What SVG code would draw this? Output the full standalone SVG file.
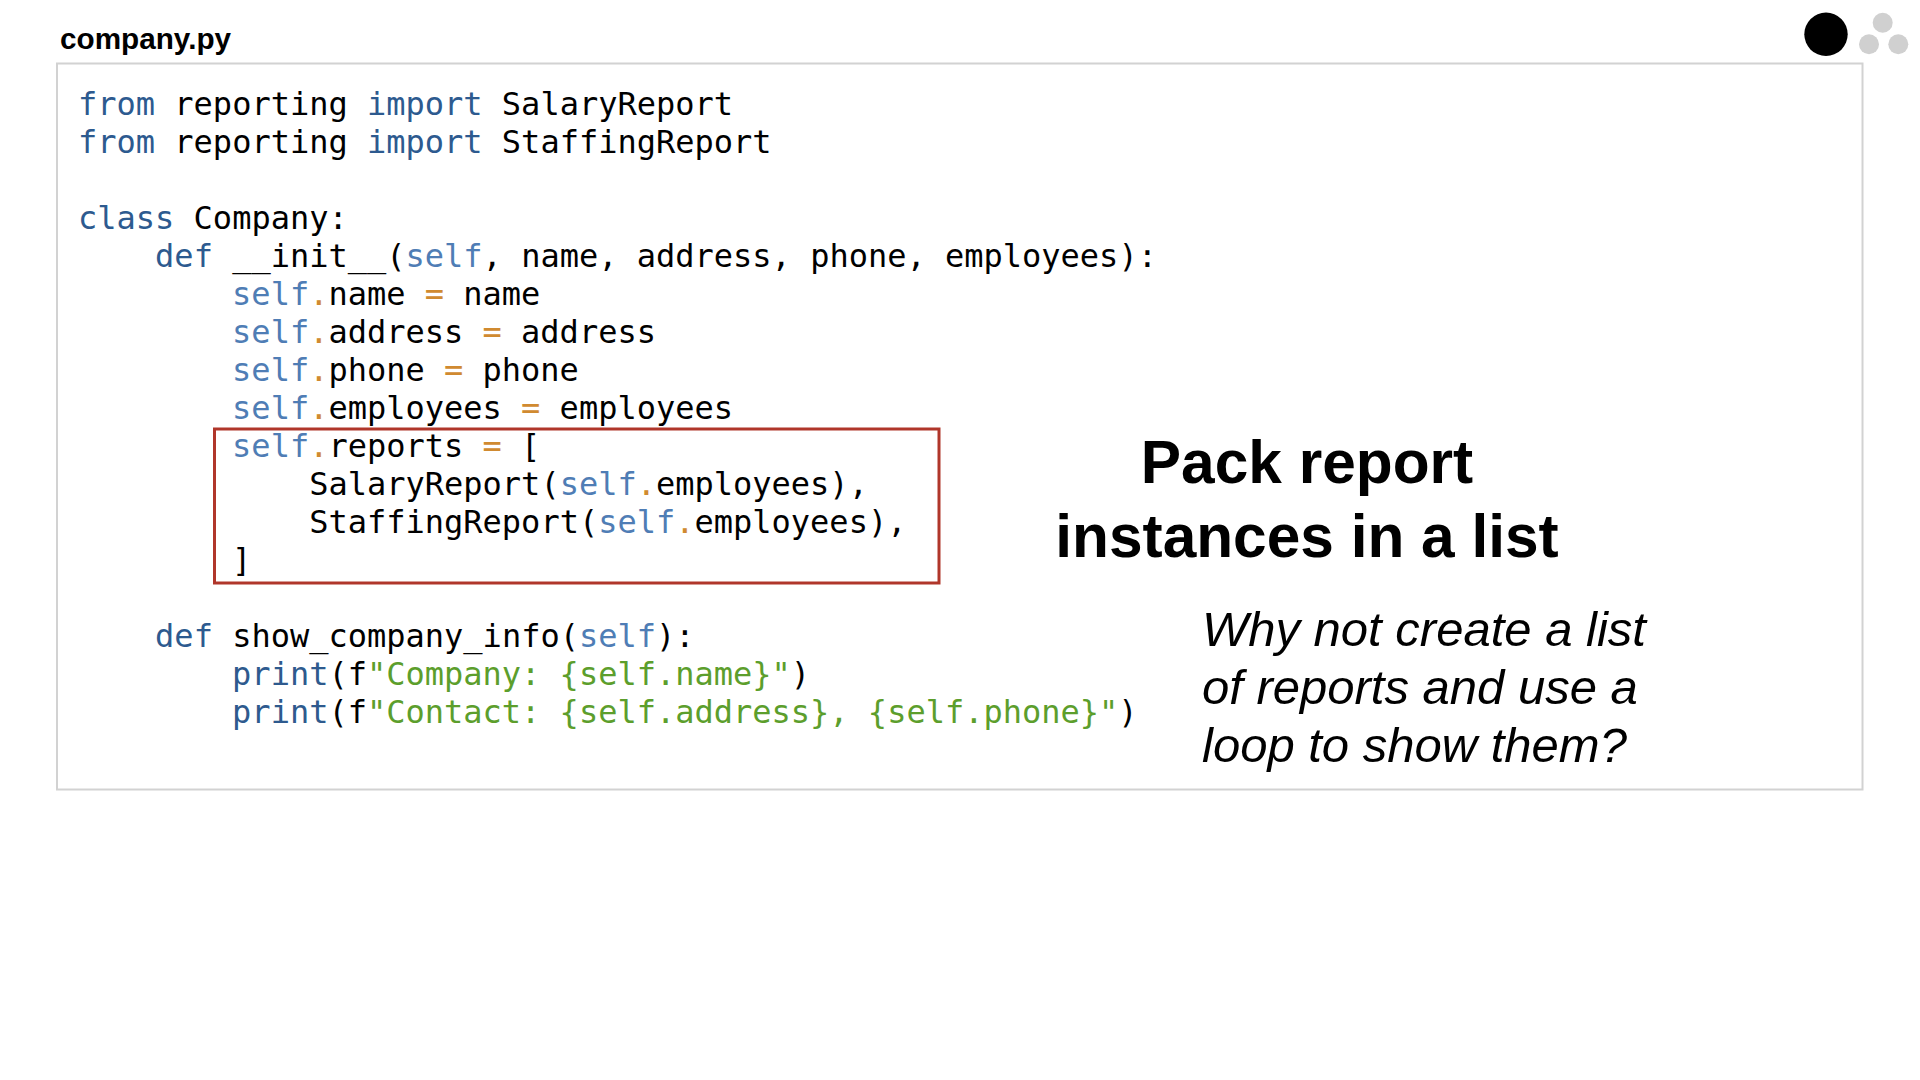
<svg xmlns="http://www.w3.org/2000/svg" width="1920" height="1080" viewBox="0 0 1920 1080">
<style>
.code{font-family:"DejaVu Sans Mono","Liberation Mono",monospace;font-size:32px;fill:#000;white-space:pre;}
.kw{fill:#2d5a8f;}
.sf{fill:#4f7db5;}
.op{fill:#d08a30;}
.st{fill:#5c9e2c;}
.fn{fill:#2e5a8e;}
.title{font-family:"Liberation Sans",Arial,sans-serif;font-weight:bold;font-size:29.7px;fill:#000;}
.head{font-family:"Liberation Sans",Arial,sans-serif;font-weight:bold;font-size:60.4px;fill:#000;}
.note{font-family:"Liberation Sans",Arial,sans-serif;font-style:italic;font-size:49px;fill:#000;}
</style>
<rect width="1920" height="1080" fill="#fff"/>
<g id="title"><text class="title" x="60" y="49">company.py</text></g>
<g id="dots">
<circle cx="1826" cy="34.3" r="21.7" fill="#000"/>
<circle cx="1882.7" cy="22.7" r="10" fill="#d0d0d0"/>
<circle cx="1869" cy="44.3" r="10" fill="#d0d0d0"/>
<circle cx="1898.3" cy="44.3" r="10" fill="#d0d0d0"/>
</g>
<g id="codebox">
<rect x="57" y="63.5" width="1805.5" height="726" fill="#fff" stroke="#d2d2d2" stroke-width="2"/>
<g class="code">
<text x="78" y="115"><tspan class="kw">from</tspan> reporting <tspan class="kw">import</tspan> SalaryReport</text>
<text x="78" y="153"><tspan class="kw">from</tspan> reporting <tspan class="kw">import</tspan> StaffingReport</text>
<text x="78" y="229"><tspan class="kw">class</tspan> Company:</text>
<text x="155.1" y="267"><tspan class="kw">def</tspan> __init__(<tspan class="sf">self</tspan>, name, address, phone, employees):</text>
<text x="232.1" y="305"><tspan class="sf">self</tspan><tspan class="op">.</tspan>name <tspan class="op">=</tspan> name</text>
<text x="232.1" y="343"><tspan class="sf">self</tspan><tspan class="op">.</tspan>address <tspan class="op">=</tspan> address</text>
<text x="232.1" y="381"><tspan class="sf">self</tspan><tspan class="op">.</tspan>phone <tspan class="op">=</tspan> phone</text>
<text x="232.1" y="419"><tspan class="sf">self</tspan><tspan class="op">.</tspan>employees <tspan class="op">=</tspan> employees</text>
<text x="232.1" y="457"><tspan class="sf">self</tspan><tspan class="op">.</tspan>reports <tspan class="op">=</tspan> [</text>
<text x="309.2" y="495">SalaryReport(<tspan class="sf">self</tspan><tspan class="op">.</tspan>employees),</text>
<text x="309.2" y="533">StaffingReport(<tspan class="sf">self</tspan><tspan class="op">.</tspan>employees),</text>
<text x="232.1" y="571">]</text>
<text x="155.1" y="647"><tspan class="kw">def</tspan> show_company_info(<tspan class="sf">self</tspan>):</text>
<text x="232.1" y="685"><tspan class="fn">print</tspan>(f<tspan class="st">"Company: {self.name}"</tspan>)</text>
<text x="232.1" y="723"><tspan class="fn">print</tspan>(f<tspan class="st">"Contact: {self.address}, {self.phone}"</tspan>)</text>
</g>
</g>
<g id="highlight">
<rect x="214.5" y="429" width="724.5" height="154" fill="none" stroke="#b0362a" stroke-width="3"/>
</g>
<g id="heading">
<text class="head" x="1307" y="483" text-anchor="middle">Pack report</text>
<text class="head" x="1307" y="557" text-anchor="middle">instances in a list</text>
</g>
<g id="note">
<text class="note" x="1202" y="646">Why not create a list</text>
<text class="note" x="1202" y="704">of reports and use a</text>
<text class="note" x="1202" y="762">loop to show them?</text>
</g>
</svg>
